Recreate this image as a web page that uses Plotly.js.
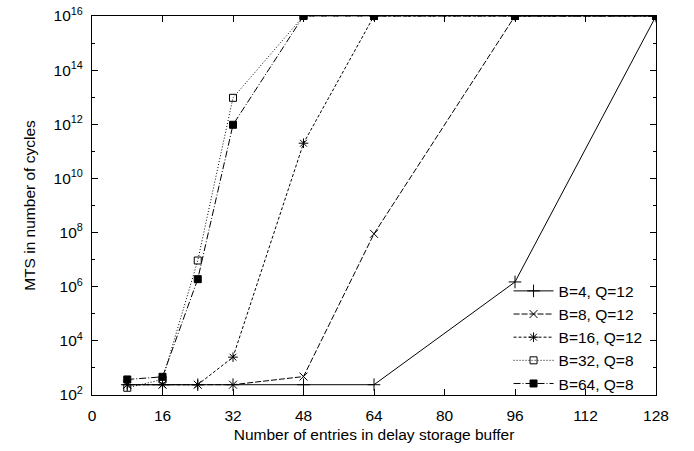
<!DOCTYPE html>
<html>
<head>
<meta charset="utf-8">
<script src="https://cdn.plot.ly/plotly-3.0.1.min.js"></script>
<style>html,body{margin:0;padding:0;background:#fff;}#chart{width:694px;height:451px;}</style>
</head>
<body>
<div id="chart"></div>
<script>
// Data
const entries = [8, 16, 24, 32, 48, 64, 96, 128];
const seriesNames = ["B=4, Q=12", "B=8, Q=12", "B=16, Q=12", "B=32, Q=8", "B=64, Q=8"];
const mtsB4  = [240, 240, 240, 240, 240, 240, 1.5e6, 1e16];
const mtsB8  = [240, 240, 240, 240, 480, 9e7, 1e16, 1e16];
const mtsB16 = [240, 240, 240, 2500, 2e11, 1e16, 1e16, 1e16];
const mtsB32 = [185, 375, 9.3e6, 9.5e12, 1e16, 1e16, 1e16, 1e16];
const mtsB64 = [375, 470, 1.9e6, 9.6e11, 1e16, 1e16, 1e16, 1e16];
const xTicks = [0, 16, 32, 48, 64, 80, 96, 112, 128];
const yTickExp = [2, 4, 6, 8, 10, 12, 14, 16];
const yMinorExp = [3, 5, 7, 9, 11, 13, 15];

const values = [mtsB4, mtsB8, mtsB16, mtsB32, mtsB64];
const dashes = ["solid", "6px,2px", "3px,2px", "1px,2px", "7px,2px,1px,2px"];
const symbols = ["cross-thin-open", "x-thin-open", "asterisk-open", "square-open", "square"];
const sizes = [9, 8, 8, 7, 7];

const traces = values.map((v, i) => ({
  x: entries,
  y: v,
  name: seriesNames[i],
  type: "scatter",
  mode: "lines+markers",
  line: {color: "#000", width: 1, dash: dashes[i]},
  marker: {symbol: symbols[i], size: sizes[i], color: "#000", line: {color: "#000", width: 1}}
}));

const font = {family: "Liberation Sans, Arial, Helvetica, sans-serif", size: 15.5, color: "#000"};

const layout = {
  width: 694, height: 451,
  margin: {l: 92, r: 38, t: 16, b: 56},
  paper_bgcolor: "#fff", plot_bgcolor: "#fff",
  font: font,
  showlegend: true,
  legend: {
    x: 0.985, y: -0.014, xanchor: "right", yanchor: "bottom",
    bgcolor: "rgba(255,255,255,0)", borderwidth: 0,
    font: {family: font.family, size: 15.5, color: "#000"},
    tracegroupgap: 0, itemwidth: 40
  },
  xaxis: {
    range: [0, 128],
    tickvals: xTicks,
    ticktext: xTicks.map(String),
    ticks: "inside", ticklen: 6, tickcolor: "#000", tickwidth: 1,
    ticklabelstandoff: 6,
    showline: true, linecolor: "#000", linewidth: 1, mirror: "ticks",
    showgrid: false, zeroline: false,
    tickfont: font,
    title: {text: "Number of entries in delay storage buffer", font: font, standoff: 6}
  },
  yaxis: {
    type: "log",
    range: [2, 16],
    tickvals: yTickExp.map(e => Math.pow(10, e)),
    ticktext: yTickExp.map(e => "10<sup>" + e + "</sup>"),
    ticks: "inside", ticklen: 6, tickcolor: "#000", tickwidth: 1,
    ticklabelstandoff: 5,
    minor: {tickvals: yMinorExp.map(e => Math.pow(10, e)), ticks: "inside", ticklen: 3, tickcolor: "#000", showgrid: false},
    showline: true, linecolor: "#000", linewidth: 1, mirror: "ticks",
    showgrid: false, zeroline: false,
    tickfont: font,
    title: {text: "MTS in number of cycles", font: font, standoff: 14}
  }
};

Plotly.newPlot("chart", traces, layout, {displayModeBar: false, staticPlot: true});
</script>
</body>
</html>
